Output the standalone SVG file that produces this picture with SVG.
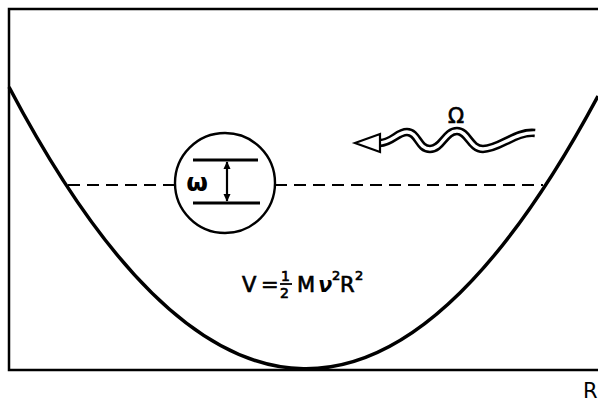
<svg xmlns="http://www.w3.org/2000/svg" width="598" height="403" viewBox="0 0 598 403">
<style>
.t{font-family:"DejaVu Sans","Liberation Sans",sans-serif;fill:#000}
.m{stroke:#000;stroke-width:0.7}
.ln{fill:none;stroke:#000}
</style>
<defs>
<marker id="ah" viewBox="0 0 10 10" refX="9" refY="5" markerWidth="8" markerHeight="8" orient="auto-start-reverse" markerUnits="userSpaceOnUse">
<path d="M0,0.5 L10,5 L0,9.5 Z" fill="#000"/>
</marker>
</defs>
<rect width="598" height="403" fill="#fff"/>
<g id="frame">
<path class="ln" d="M598,9 L9,9 L9,370 L598,370" stroke-width="2.5"/>
</g>
<g id="connectors">
<path class="ln" d="M68,185 L175,185 M275,185 L543,185" stroke-width="2" stroke-dasharray="12,7"/>
</g>
<g id="potential">
<path class="ln" d="M9,87 Q303.5,646 598,96" stroke-width="3.5"/>
</g>
<g id="oscillator">
<circle cx="225" cy="183" r="50" fill="#fff" stroke="#000" stroke-width="2.4"/>
<line class="ln" x1="193" y1="160" x2="258" y2="160" stroke-width="3"/>
<line class="ln" x1="193" y1="203" x2="260" y2="203" stroke-width="3"/>
<line class="ln" x1="227" y1="162" x2="227" y2="201" stroke-width="2.2" marker-start="url(#ah)" marker-end="url(#ah)"/>
<text class="t" x="197" y="191" font-size="25" font-weight="bold" text-anchor="middle">ω</text>
</g>
<g id="photon">
<path class="ln" d="M535,133 C515,131 500,149 483,149 C470,149 468,131 457,131 C445,131 442,149 430,149 C418,149 418,132 407,132 C397,132 392,143 380,143" stroke-width="8.5"/>
<path d="M537,133 C515,131 500,149 483,149 C470,149 468,131 457,131 C445,131 442,149 430,149 C418,149 418,132 407,132 C397,132 392,143 378,143" style="fill:none;stroke:#fff;stroke-width:3.4"/>
<polygon points="355,143 380,134 380,152" fill="#fff" stroke="#000" stroke-width="2.2"/>
<text class="t m" x="456" y="123" font-size="21" text-anchor="middle">Ω</text>
</g>
<g id="formula">
<text class="t m" x="242" y="292" font-size="21">V</text>
<text class="t m" x="261" y="292" font-size="21">=</text>
<text class="t m" x="281" y="281" font-size="14">1</text>
<line class="ln" x1="280" y1="284" x2="292" y2="284" stroke-width="1.8"/>
<text class="t m" x="280" y="298" font-size="14">2</text>
<text class="t m" x="297" y="292" font-size="21">M</text>
<text class="t" x="318" y="292" font-size="21" font-style="italic" font-weight="bold">ν</text>
<text class="t m" x="332" y="280" font-size="13">2</text>
<text class="t m" x="340" y="292" font-size="21">R</text>
<text class="t m" x="355" y="280" font-size="13">2</text>
</g>
<g id="axis-label">
<text class="t" x="583" y="398" font-size="21">R</text>
</g>
</svg>
